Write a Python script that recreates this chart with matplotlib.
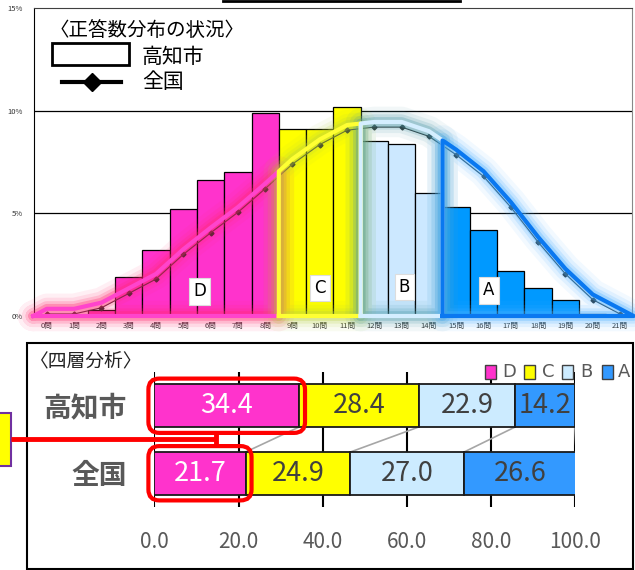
import matplotlib.pyplot as plt
from matplotlib.patches import Rectangle, FancyBboxPatch
from matplotlib.lines import Line2D

plt.rcParams['font.family'] = ['Noto Sans CJK JP', 'DejaVu Sans']

# 正答数分布 (%)
questions = [f"{i}問" for i in range(22)]
city = [0.0, 0.05, 0.3, 1.9, 3.2, 5.2, 6.6, 7.0, 9.9, 9.1, 9.1, 10.2,
        8.5, 8.4, 6.0, 5.3, 4.2, 2.2, 1.35, 0.8, 0.1, 0.0]
national = [0.1, 0.1, 0.4, 1.1, 1.8, 3.0, 4.05, 5.05, 6.2, 7.4, 8.35, 9.05,
            9.2, 9.2, 8.75, 7.85, 6.8, 5.3, 3.6, 2.05, 0.8, 0.1]
band_of_q = ["D"] * 9 + ["C"] * 3 + ["B"] * 3 + ["A"] * 7

# 四層分析 (%)
band_names = ["D", "C", "B", "A"]
city_share = [34.4, 28.4, 22.9, 14.2]
national_share = [21.7, 24.9, 27.0, 26.6]
rows = ["全国", "高知市"]

bar_col = {"D": "#FF33CC", "C": "#FFFF00", "B": "#CCE8FF", "A": "#0099FF"}
share_col = {"D": "#FF33CC", "C": "#FFFF00", "B": "#CCEBFF", "A": "#3399FF"}
glow_col = {"D": ("#FF44CC", "#FF2A70"), "C": ("#FFFF33", "#B8D040"),
            "B": ("#D4EEFF", "#4A98A8"), "A": ("#0A78F0", "#4AB0FF")}
label_pos = {"D": (5.6, 1.2), "C": (10.0, 1.35), "B": (13.1, 1.4), "A": (16.2, 1.25)}

W, H = 635, 570
fig = plt.figure(figsize=(W / 100, H / 100), dpi=100)

# ---- top chart: distribution
ax1 = fig.add_axes([34 / W, 1 - 316 / H, (632 - 34) / W, (316 - 8) / H])
xs = list(range(len(questions)))
ax1.bar(xs, city, width=1.0, color=[bar_col[b] for b in band_of_q],
        edgecolor="black", linewidth=0.9, zorder=2)
for g in [5, 10]:
    ax1.axhline(g, color="black", lw=0.9, zorder=1)
ax1.plot(xs, national, color="#222222", lw=0.8, marker="D", ms=2.5, zorder=3)

# glowing outlines per band, following the national curve
off = 0.25
for b in band_names:
    idx = [i for i, q in enumerate(band_of_q) if q == b]
    left, right = idx[0] - 0.5, idx[-1] + 0.5
    yl = 0.0 if idx[0] == 0 else (national[idx[0] - 1] + national[idx[0]]) / 2 + off
    yr = 0.0 if idx[-1] == len(xs) - 1 else (national[idx[-1]] + national[idx[-1] + 1]) / 2 + off
    px = [left, left] + idx + [right, right, left]
    py = [0, yl] + [national[i] + off for i in idx] + [yr, 0, 0]
    core, halo = glow_col[b]
    for lw, a in [(22, 0.07), (16, 0.11), (11, 0.18), (7, 0.3)]:
        ax1.plot(px, py, color=halo, lw=lw, alpha=a, solid_joinstyle="round",
                 solid_capstyle="round", clip_on=False, zorder=4)
    ax1.plot(px, py, color=core, lw=3, solid_joinstyle="round", clip_on=False, zorder=5)
    lx, ly = label_pos[b]
    ax1.text(lx, ly, b, ha="center", va="center", fontsize=12, color="black",
             family=["DejaVu Sans"], zorder=6,
             bbox=dict(boxstyle="square,pad=0.25", fc="white", ec="#DDDDDD", lw=0.8))

ax1.set_xlim(-0.47, 21.44)
ax1.set_ylim(0, 15)
ax1.set_yticks([0, 5, 10, 15], ["0%", "5%", "10%", "15%"])
ax1.set_xticks(xs, questions)
ax1.tick_params(length=0, labelsize=5.5, colors="#333333")
ax1.tick_params(axis="y", pad=8)
ax1.tick_params(axis="x", pad=4)
ax1.spines["left"].set_color("black")
ax1.spines["top"].set_color("#404040")
ax1.spines["right"].set_color("#888888")
ax1.spines["bottom"].set_visible(False)

# ---- bottom chart: four-layer shares
ax2 = fig.add_axes([154.3 / W, 1 - 507 / H, (575.3 - 154.3) / W, (507 - 372) / H])
bh = 0.63
cum_c, cum_n = [], []
lc = ln = 0.0
for k, b in enumerate(band_names):
    for y, val, start in [(1, city_share[k], lc), (0, national_share[k], ln)]:
        ax2.barh(y, val, left=start, height=bh, color=share_col[b],
                 edgecolor="#1a1a1a", linewidth=1.3, zorder=2)
        ax2.text(start + val / 2, y, f"{val:.1f}", ha="center", va="center",
                 fontsize=19.5, color="white" if b == "D" else "#404040", zorder=3)
    lc += city_share[k]
    ln += national_share[k]
    cum_c.append(lc)
    cum_n.append(ln)
for c, n in zip(cum_c, cum_n):
    ax2.plot([c, n], [1 - bh / 2, bh / 2], color="#A6A6A6", lw=1.2, zorder=1)
for y, val in [(1, city_share[0]), (0, national_share[0])]:
    ax2.add_patch(FancyBboxPatch((0, y - bh / 2), val, bh,
                                 boxstyle="round,pad=1.4,rounding_size=2.6",
                                 mutation_aspect=0.0624, fill=False, ec="#FF0000",
                                 lw=3, clip_on=False, zorder=4))
ax2.set_xlim(0, 100)
ax2.set_ylim(-0.5, 1.5)
ax2.set_xticks([0, 20, 40, 60, 80, 100], [f"{v:.1f}" for v in [0, 20, 40, 60, 80, 100]])
ax2.set_yticks([0, 1], rows)
ax2.tick_params(length=0)
ax2.tick_params(axis="x", labelsize=15, colors="#595959", pad=17)
ax2.tick_params(axis="y", labelsize=20, colors="#595959", pad=20)
for t in ax2.get_yticklabels():
    t.set_fontweight("bold")
ax2.grid(axis="x", color="black", lw=1.5, zorder=0)
ax2.set_axisbelow(True)
for s in ax2.spines.values():
    s.set_visible(False)

# ---- overlay in pixel coordinates: legends, frames, callouts
ov = fig.add_axes([0, 0, 1, 1], zorder=10)
ov.set_xlim(0, W)
ov.set_ylim(H, 0)
ov.axis("off")
ov.plot([223, 460], [1, 1], color="black", lw=2)
ov.text(50, 31, "〈正答数分布の状況〉", fontsize=14, va="center", ha="left")
ov.add_patch(Rectangle((52, 43), 77, 22, fc="white", ec="black", lw=2))
ov.text(142, 57, "高知市", fontsize=15, va="center", ha="left")
ov.add_line(Line2D([62, 121], [82, 82], color="black", lw=3))
ov.plot([91.5], [82], marker="D", ms=9, color="black")
ov.text(142, 82, "全国", fontsize=15, va="center", ha="left")

ov.add_patch(Rectangle((27, 343), 606, 225.5, fill=False, ec="black", lw=1.5))
ov.text(30, 361, "〈四層分析〉", fontsize=13.5, va="center", ha="left", color="#222222")
for b, sx, tx in zip(band_names, [485, 524, 562, 602], [502, 542, 580, 618]):
    ov.add_patch(Rectangle((sx, 365), 11, 14, fc=share_col[b], ec="#404040", lw=1))
    ov.text(tx, 372, b, fontsize=13, va="center", ha="left", color="#595959",
            family=["DejaVu Sans"])

ov.plot([11, 216], [439, 439], color="#FF0000", lw=3.5, solid_capstyle="butt")
ov.plot([216, 216], [433, 447], color="#FF0000", lw=3.5, solid_capstyle="butt")
ov.add_patch(Rectangle((-3, 413), 14, 53, fc="#FFFF00", ec="#7030A0", lw=1.5))

fig.savefig("out.png", dpi=100)
